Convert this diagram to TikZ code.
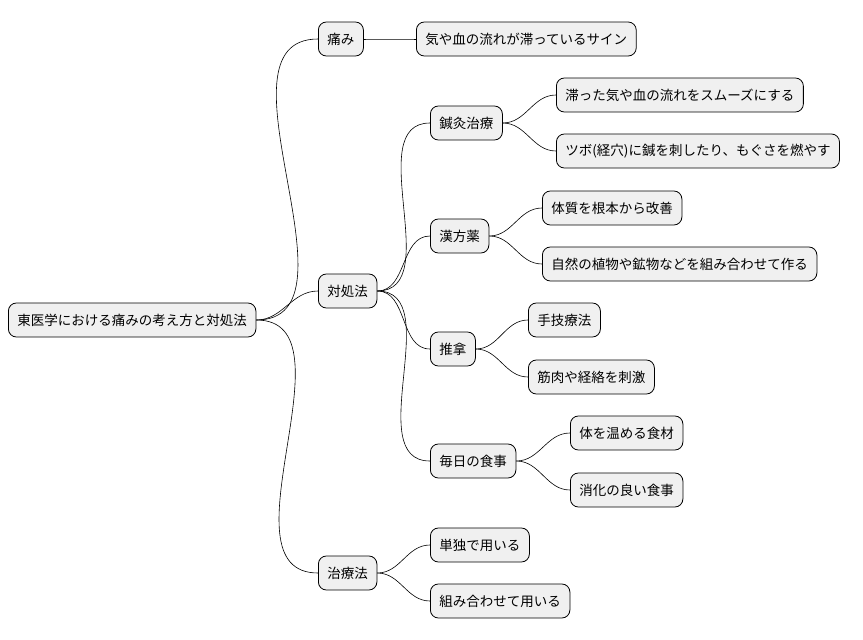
\documentclass[tikz,border=0pt]{standalone}
\usepackage{fontspec}
\setmainfont{Noto Sans CJK JP}
\usetikzlibrary{positioning}

\begin{document}
\begin{tikzpicture}[x=1pt,y=-1pt,thin,
  topic/.style={rectangle,rounded corners=8pt,fill=black!6,draw,line width=0.8pt,
    anchor=west,minimum height=34pt,inner xsep=9pt,font=\fontsize{13.5}{15}\selectfont},
  link/.style={draw,line width=0.6pt}]
  \useasboundingbox (0,0) rectangle (863,640);

  \node[topic] (root) at (8,320) {東医学における痛みの考え方と対処法};

  \node[topic] (pain) at (318,39) {痛み};
  \node[topic] (sign) at (416,39) {気や血の流れが滞っているサイン};

  \node[topic] (cope) at (318,291) {対処法};
  \node[topic] (acu)  at (430,123) {鍼灸治療};
  \node[topic] (acu1) at (556,95)  {滞った気や血の流れをスムーズにする};
  \node[topic] (acu2) at (556,151) {ツボ(経穴)に鍼を刺したり、もぐさを燃やす};
  \node[topic] (herb) at (430,236) {漢方薬};
  \node[topic] (herb1) at (542,208) {体質を根本から改善};
  \node[topic] (herb2) at (542,264) {自然の植物や鉱物などを組み合わせて作る};
  \node[topic] (tuina) at (430,349) {推拿};
  \node[topic] (tuina1) at (528,320) {手技療法};
  \node[topic] (tuina2) at (528,377) {筋肉や経絡を刺激};
  \node[topic] (food) at (430,461) {毎日の食事};
  \node[topic] (food1) at (570,433) {体を温める食材};
  \node[topic] (food2) at (570,490) {消化の良い食事};

  \node[topic] (cure) at (318,573) {治療法};
  \node[topic] (cure1) at (430,545) {単独で用いる};
  \node[topic] (cure2) at (430,601) {組み合わせて用いる};

  % branches
  \foreach \a/\b in {root/pain,root/cope,root/cure,pain/sign,
      cope/acu,cope/herb,cope/tuina,cope/food,
      acu/acu1,acu/acu2,herb/herb1,herb/herb2,
      tuina/tuina1,tuina/tuina2,food/food1,food/food2,
      cure/cure1,cure/cure2}
    \path[link] (\a.east) to[out=0,in=180] (\b.west);
\end{tikzpicture}
\end{document}
